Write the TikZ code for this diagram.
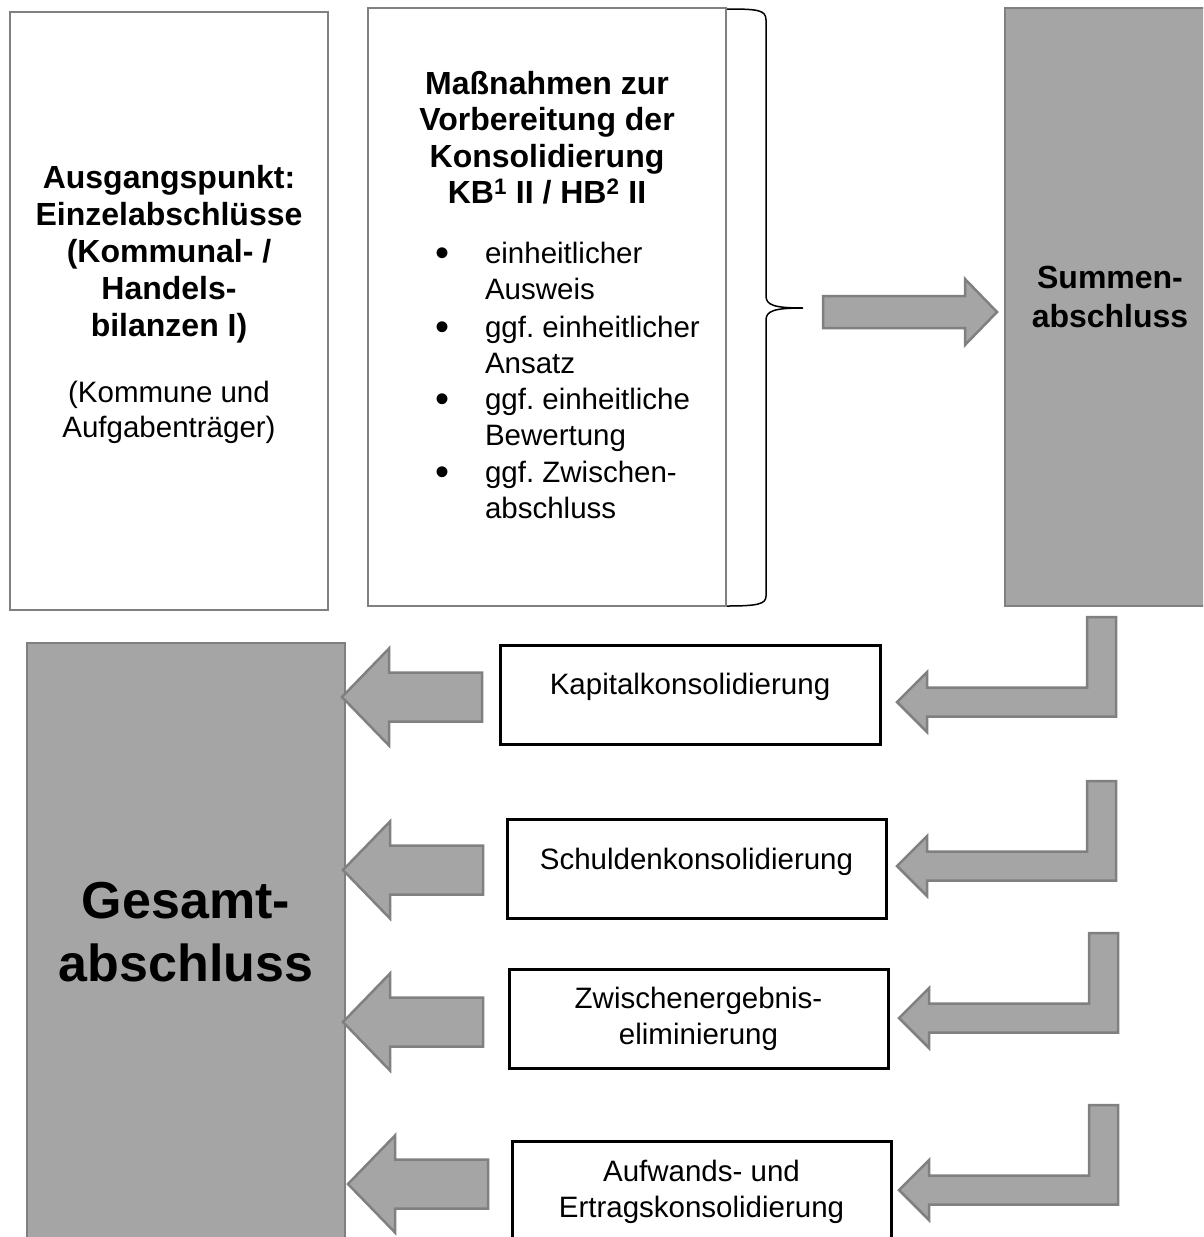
\documentclass[tikz,border=0pt]{standalone}
\usepackage{fontspec}
\setmainfont{Liberation Sans}
\frenchspacing
\definecolor{boxgray}{RGB}{165,165,165}
\definecolor{linegray}{RGB}{128,128,128}
\tikzset{
  whitebox/.style={draw=linegray, line width=2.5pt, fill=white, inner sep=0pt, outer sep=0pt},
  graybox/.style={draw=linegray, line width=2.5pt, fill=boxgray, inner sep=0pt, outer sep=0pt},
  stepbox/.style={draw=black, line width=3pt, fill=white, inner sep=0pt, outer sep=0pt},
  txt/.style={inner sep=0pt, outer sep=0pt, align=center},
  boldtxt/.style={txt, font=\fontsize{32}{37}\selectfont\bfseries},
  normtxt/.style={txt, font=\fontsize{29.5}{36}\selectfont},
  bullettxt/.style={txt, font=\fontsize{40}{36}\selectfont},
  blockarrow/.style={fill=boxgray, draw=linegray, line width=2.5pt, line join=miter},
  leftarrow/.pic={\path[blockarrow] (0,0) -- (47,-48.5) -- (47,-24.5) -- (140,-24.5) -- (140,24.5) -- (47,24.5) -- (47,48.5) -- cycle;},
  bentarrow/.pic={\path[blockarrow] (0,0) -- (30,-30) -- (30,-14.5) -- (190,-14.5) -- (190,-85) -- (219,-85) -- (219,14.5) -- (30,14.5) -- (30,30) -- cycle;},
  rightarrow/.pic={\path[blockarrow] (0,0) -- (-32,-33) -- (-32,-16) -- (-174,-16) -- (-174,16) -- (-32,16) -- (-32,33) -- cycle;}
}
\begin{document}
\begin{tikzpicture}[x=1pt, y=-1pt]
\useasboundingbox (0,0) rectangle (1203,1237);
\clip (0,0) rectangle (1203,1237);

% top row boxes
\node[whitebox, minimum width=318pt, minimum height=598pt] (ausg) at (169,311) {};
\node[whitebox, minimum width=358pt, minimum height=598pt] (mass) at (547,307) {};
\node[graybox, minimum width=210pt, minimum height=598pt] (summ) at (1110,307) {};

% texts left box
\node[boldtxt] (ausgT) at (169,255) {\strut Ausgangspunkt:\\\strut Einzelabschlüsse\\\strut (Kommunal- /\\\strut Handels-\\\strut bilanzen I)};
\node[normtxt, font=\fontsize{29.5}{35}\selectfont] (ausgS) at (169,413) {\strut (Kommune und\\\strut Aufgabenträger)};

% texts middle box
\node[boldtxt, font=\fontsize{32}{36.3}\selectfont\bfseries] (massT) at (547,141.7) {\strut Maßnahmen zur\\\strut Vorbereitung der\\\strut Konsolidierung\\\strut KB\textsuperscript{1} II / HB\textsuperscript{2} II};
\node[bullettxt] (b1) at (442,259.5) {\strut •};
\node[bullettxt] (b2) at (442,333.5) {\strut •};
\node[bullettxt] (b3) at (442,405.5) {\strut •};
\node[bullettxt] (b4) at (442,478.5) {\strut •};
\node[normtxt, align=left, anchor=west] (i1) at (485,274.4) {\strut einheitlicher\\\strut Ausweis};
\node[normtxt, align=left, anchor=west] (i2) at (485,348) {\strut ggf. einheitlicher\\\strut Ansatz};
\node[normtxt, align=left, anchor=west] (i3) at (485,420.4) {\strut ggf. einheitliche\\\strut Bewertung};
\node[normtxt, align=left, anchor=west] (i4) at (485,493.4) {\strut ggf. Zwischen-\\\strut abschluss};

% summen text
\node[boldtxt, font=\fontsize{32}{39}\selectfont\bfseries] (summT) at (1110,300) {\strut Summen-\\\strut abschluss};

% brace
\draw[black, line width=1.5pt] (727,9) .. controls (758,9) and (766,10) .. (766,20)
  -- (766,296) .. controls (766,305) and (774,308) .. (803,308)
  .. controls (774,308) and (766,311) .. (766,320)
  -- (766,596) .. controls (766,604) and (758,606) .. (727,606);

% arrow to Summenabschluss
\pic at (997,312) {rightarrow};

% lower part
\node[graybox, minimum width=318pt, minimum height=617pt] (ges) at (186,951.5) {};
\node[txt, font=\fontsize{52}{63}\selectfont\bfseries] (gesT) at (186,937.6) {\strut Gesamt-\\\strut abschluss};

\node[stepbox, minimum width=380pt, minimum height=99pt] (kap) at (690,694.5) {};
\node[stepbox, minimum width=379pt, minimum height=99pt] (sch) at (696.5,868.5) {};
\node[stepbox, minimum width=379pt, minimum height=99pt] (zwi) at (698.5,1018.5) {};
\node[stepbox, minimum width=379pt, minimum height=119pt] (auf) at (701.5,1200.5) {};

\node[normtxt] (kapT) at (690,687.4) {\strut Kapitalkonsolidierung};
\node[normtxt] (schT) at (696.5,862.4) {\strut Schuldenkonsolidierung};
\node[normtxt] (zwiT) at (698.5,1019) {\strut Zwischenergebnis-\\\strut eliminierung};
\node[normtxt] (aufT) at (701.5,1192) {\strut Aufwands- und\\\strut Ertragskonsolidierung};

% arrows to Gesamtabschluss
\pic at (342,697) {leftarrow};
\pic at (343,870) {leftarrow};
\pic at (343,1022) {leftarrow};
\pic at (348,1184) {leftarrow};

% bent arrows from Summenabschluss
\pic at (897,702) {bentarrow};
\pic at (897,866) {bentarrow};
\pic at (899,1018) {bentarrow};
\pic at (899,1190) {bentarrow};
\end{tikzpicture}
\end{document}
